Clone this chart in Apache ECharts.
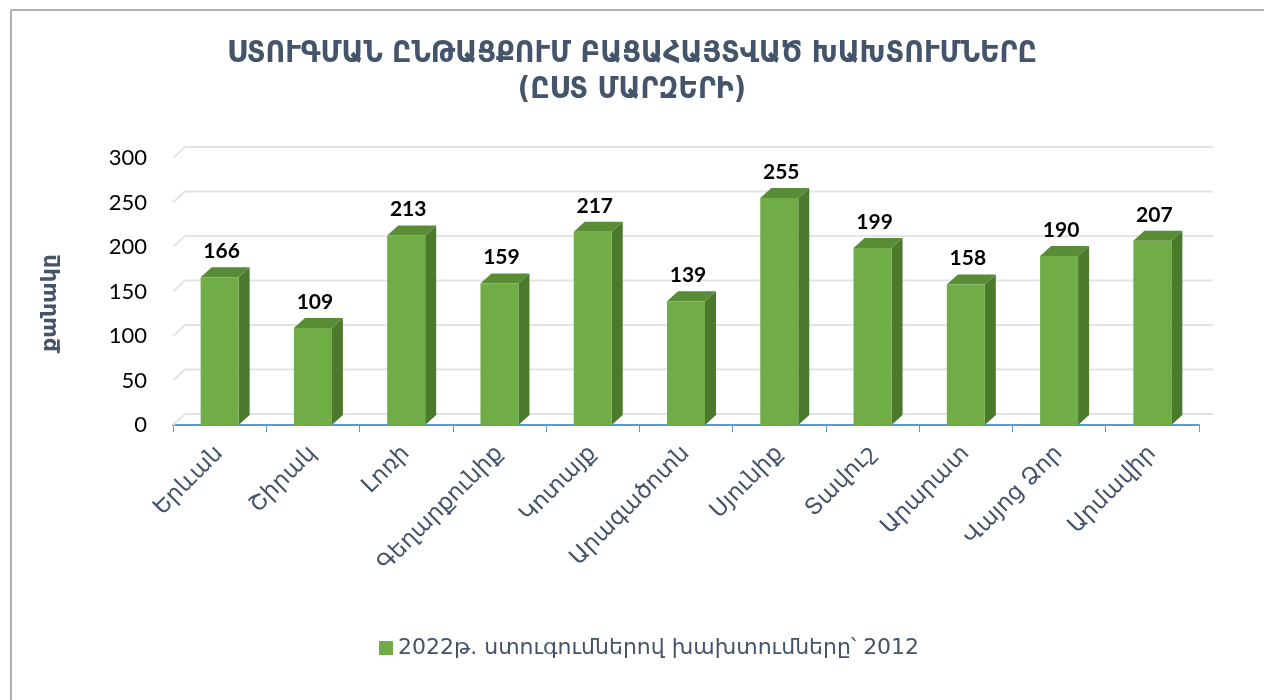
<!DOCTYPE html>
<html>
<head>
<meta charset="utf-8">
<script src="https://cdn.jsdelivr.net/npm/echarts@6/dist/echarts.min.js"></script>
<style>
  html, body { margin: 0; padding: 0; background: #fff; }
  #main { width: 1264px; height: 700px; }
</style>
</head>
<body>
<div id="main"></div>
<script>
// marzer
var regions = ['Երևան', 'Շիրակ', 'Լոռի', 'Գեղարքունիք', 'Կոտայք', 'Արագածոտն', 'Սյունիք', 'Տավուշ', 'Արարատ', 'Վայոց Ձոր', 'Արմավիր'];
var violations = [166, 109, 213, 159, 217, 139, 255, 199, 158, 190, 207];
var yTicks = [0, 50, 100, 150, 200, 250, 300];
var seriesName = '2022թ. ստուգումներով խախտումները՝ 2012';

var depthX = 12, depthY = 11;

var chartDom = document.getElementById('main');
var myChart = echarts.init(chartDom);
var option;

option = {
  backgroundColor: '#fff',
  animation: false,
  title: {
    text: 'ՍՏՈՒԳՄԱՆ ԸՆԹԱՑՔՈՒՄ ԲԱՑԱՀԱՅՏՎԱԾ ԽԱԽՏՈՒՄՆԵՐԸ\n(ԸՍՏ ՄԱՐԶԵՐԻ)',
    left: 'center',
    top: 31,
    textStyle: {
      fontFamily: 'DejaVu Sans Condensed',
      fontWeight: 'bold',
      fontSize: 30,
      lineHeight: 36,
      color: '#44546a'
    }
  },
  legend: {
    data: [seriesName],
    bottom: 36,
    left: 374,
    icon: 'rect',
    itemWidth: 14,
    itemHeight: 14,
    itemGap: 6,
    textStyle: { fontFamily: 'DejaVu Sans', fontSize: 22, color: '#44546a' }
  },
  graphic: [
    { type: 'line', shape: { x1: 11, y1: 10, x2: 1264, y2: 10 }, style: { stroke: '#b0b0b0', lineWidth: 2 } },
    { type: 'line', shape: { x1: 11, y1: 10, x2: 11, y2: 700 }, style: { stroke: '#b0b0b0', lineWidth: 2 } },
    {
      type: 'text',
      x: 50,
      y: 303,
      rotation: Math.PI / 2,
      style: {
        text: 'քանակը',
        align: 'center',
        verticalAlign: 'middle',
        fontFamily: 'DejaVu Sans',
        fontWeight: 'bold',
        fontSize: 22,
        fill: '#44546a'
      }
    }
  ],
  grid: { left: 173, right: 65, top: 158, bottom: 275 },
  xAxis: {
    type: 'category',
    data: regions,
    axisLine: { lineStyle: { color: '#5b9bd5', width: 2 } },
    axisTick: { show: true, length: 7, lineStyle: { color: '#5b9bd5', width: 1 } },
    axisLabel: {
      rotate: 45,
      margin: 25,
      fontFamily: 'DejaVu Sans',
      fontSize: 23,
      color: '#44546a'
    }
  },
  yAxis: {
    type: 'value',
    min: 0,
    max: 300,
    interval: 50,
    axisLine: { show: false },
    axisTick: { show: false },
    splitLine: { show: false },
    axisLabel: { margin: 26, fontFamily: 'Lato', fontSize: 22, color: '#000' }
  },
  series: [
    {
      // back wall gridlines
      type: 'custom',
      silent: true,
      z: 1,
      data: yTicks.map(function (v) { return [0, v]; }),
      renderItem: function (params, api) {
        var band = api.size([1, 0])[0];
        var p = api.coord([0, api.value(1)]);
        var left = p[0] - band / 2;
        var right = api.coord([regions.length - 1, api.value(1)])[0] + band / 2;
        return {
          type: 'polyline',
          shape: { points: [[left, p[1]], [left + depthX, p[1] - depthY], [right + depthX + 2, p[1] - depthY]] },
          style: { stroke: '#e4e4e4', lineWidth: 2, fill: null }
        };
      }
    },
    {
      name: seriesName,
      type: 'custom',
      z: 3,
      itemStyle: { color: '#70ad47' },
      data: violations.map(function (v, i) { return [i, v]; }),
      renderItem: function (params, api) {
        var top = api.coord([api.value(0), api.value(1)]);
        var base = api.coord([api.value(0), 0]);
        var bw = 38;
        var dx = 11, dy = 10;
        var x0 = top[0] - bw / 2, x1 = top[0] + bw / 2;
        var y = top[1], yb = base[1];
        return {
          type: 'group',
          children: [
            {
              type: 'polygon',
              shape: { points: [[x1, y], [x1 + dx, y - dy], [x1 + dx, yb - dy], [x1, yb]] },
              style: { fill: '#4b7a2c' }
            },
            {
              type: 'polygon',
              shape: { points: [[x0, y], [x0 + dx, y - dy], [x1 + dx, y - dy], [x1, y]] },
              style: { fill: '#5a8c38' }
            },
            {
              type: 'rect',
              shape: { x: x0, y: y, width: bw, height: yb - y },
              style: { fill: '#70ad47' }
            },
            {
              type: 'text',
              style: {
                text: String(api.value(1)),
                x: top[0] + 2,
                y: y - dy - 16,
                align: 'center',
                verticalAlign: 'middle',
                fontFamily: 'Lato',
                fontWeight: 'bold',
                fontSize: 21,
                fill: '#000'
              }
            }
          ]
        };
      }
    }
  ]
};

option && myChart.setOption(option);
</script>
</body>
</html>
